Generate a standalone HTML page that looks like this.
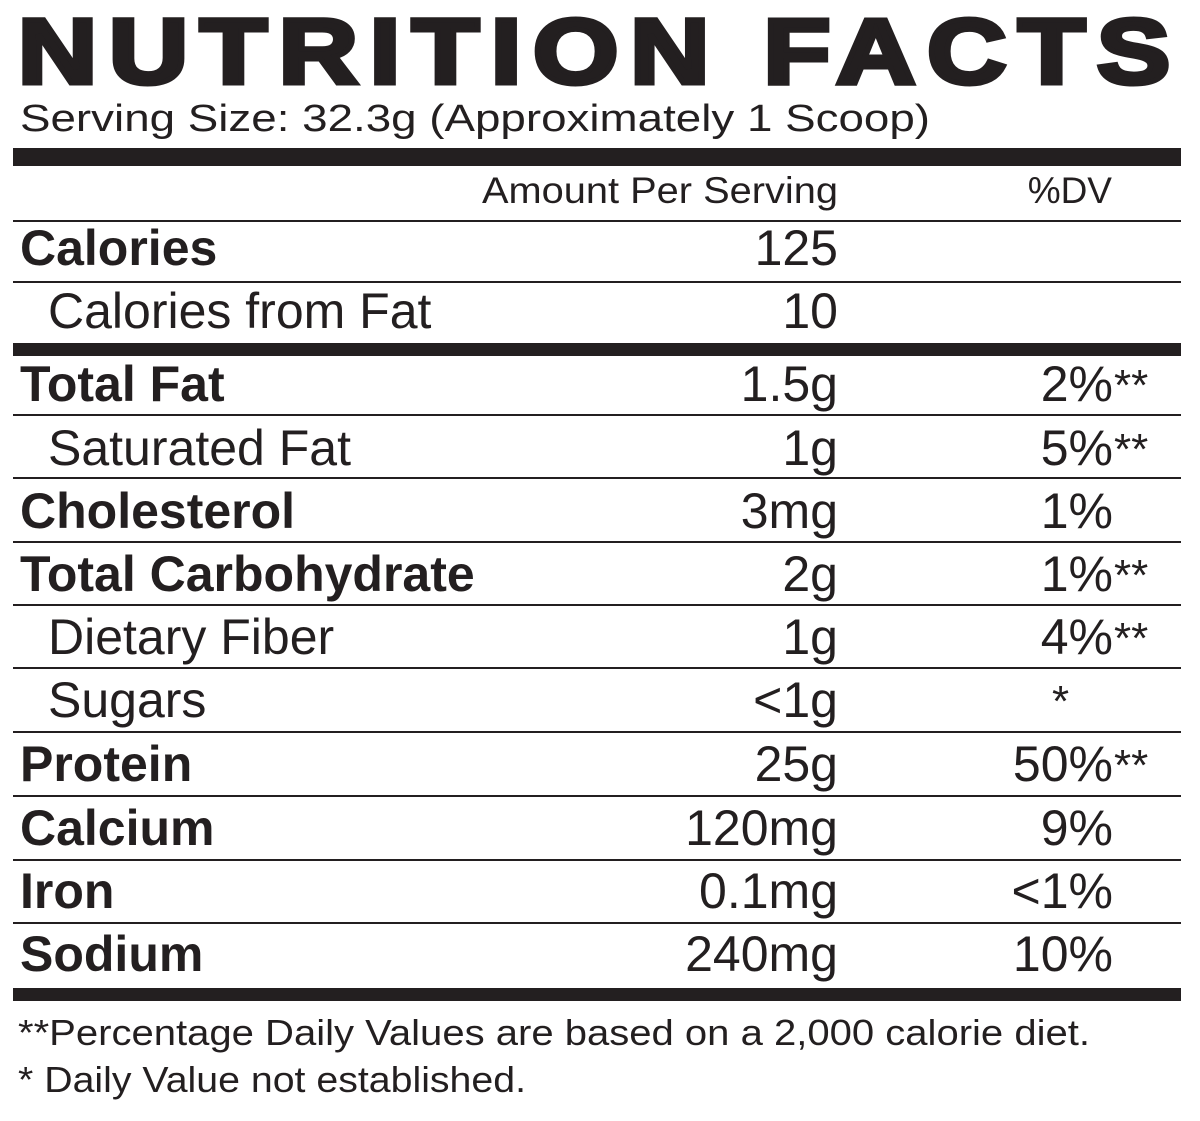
<!DOCTYPE html>
<html><head><style>html,body{margin:0;padding:0;background:#fff}svg{display:block}</style></head>
<body>
<svg width="1200" height="1121" viewBox="0 0 1200 1121" xmlns="http://www.w3.org/2000/svg" font-family="Liberation Sans, Arial, sans-serif" fill="#231f20">
<text x="18" y="83" font-size="92" font-weight="bold" stroke="#231f20" stroke-width="5" letter-spacing="10" textLength="1164" lengthAdjust="spacingAndGlyphs">NUTRITION FACTS</text>
<text x="20" y="131" font-size="38" textLength="910" lengthAdjust="spacingAndGlyphs">Serving Size: 32.3g (Approximately 1 Scoop)</text>
<rect x="13" y="148" width="1168" height="18"/>
<text x="838" y="203" font-size="37" text-anchor="end" textLength="356" lengthAdjust="spacingAndGlyphs">Amount Per Serving</text>
<text x="1112" y="203" font-size="37" text-anchor="end">%DV</text>
<rect x="13" y="220" width="1168" height="2"/>
<rect x="13" y="281" width="1168" height="2"/>
<rect x="13" y="343" width="1168" height="13"/>
<rect x="13" y="414" width="1168" height="2"/>
<rect x="13" y="477" width="1168" height="2"/>
<rect x="13" y="541" width="1168" height="2"/>
<rect x="13" y="604" width="1168" height="2"/>
<rect x="13" y="667" width="1168" height="2"/>
<rect x="13" y="731" width="1168" height="2"/>
<rect x="13" y="795" width="1168" height="2"/>
<rect x="13" y="859" width="1168" height="2"/>
<rect x="13" y="922" width="1168" height="2"/>
<rect x="13" y="988" width="1168" height="13"/>
<g font-size="50">
<text x="20" y="265" font-weight="bold">Calories</text><text x="838" y="265" text-anchor="end">125</text>
<text x="48" y="328">Calories from Fat</text><text x="838" y="328" text-anchor="end">10</text>
<text x="20" y="401" font-weight="bold">Total Fat</text><text x="838" y="401" text-anchor="end">1.5g</text><text x="1113" y="401" text-anchor="end">2%</text>
<text x="48" y="465">Saturated Fat</text><text x="838" y="465" text-anchor="end">1g</text><text x="1113" y="465" text-anchor="end">5%</text>
<text x="20" y="528" font-weight="bold">Cholesterol</text><text x="838" y="528" text-anchor="end">3mg</text><text x="1113" y="528" text-anchor="end">1%</text>
<text x="20" y="591" font-weight="bold">Total Carbohydrate</text><text x="838" y="591" text-anchor="end">2g</text><text x="1113" y="591" text-anchor="end">1%</text>
<text x="48" y="654">Dietary Fiber</text><text x="838" y="654" text-anchor="end">1g</text><text x="1113" y="654" text-anchor="end">4%</text>
<text x="48" y="717">Sugars</text><text x="838" y="717" text-anchor="end">&lt;1g</text>
<text x="20" y="781" font-weight="bold">Protein</text><text x="838" y="781" text-anchor="end">25g</text><text x="1113" y="781" text-anchor="end">50%</text>
<text x="20" y="845" font-weight="bold">Calcium</text><text x="838" y="845" text-anchor="end">120mg</text><text x="1113" y="845" text-anchor="end">9%</text>
<text x="20" y="908" font-weight="bold">Iron</text><text x="838" y="908" text-anchor="end">0.1mg</text><text x="1113" y="908" text-anchor="end">&lt;1%</text>
<text x="20" y="971" font-weight="bold">Sodium</text><text x="838" y="971" text-anchor="end">240mg</text><text x="1113" y="971" text-anchor="end">10%</text>
</g>
<g font-size="44">
<text x="1114" y="400">**</text><text x="1114" y="464">**</text><text x="1114" y="590">**</text><text x="1114" y="653">**</text><text x="1052" y="716">*</text><text x="1114" y="780">**</text>
</g>
<text x="18" y="1045" font-size="36" textLength="1072" lengthAdjust="spacingAndGlyphs">**Percentage Daily Values are based on a 2,000 calorie diet.</text>
<text x="18" y="1092" font-size="36" textLength="508" lengthAdjust="spacingAndGlyphs">* Daily Value not established.</text>
</svg>
</body></html>
